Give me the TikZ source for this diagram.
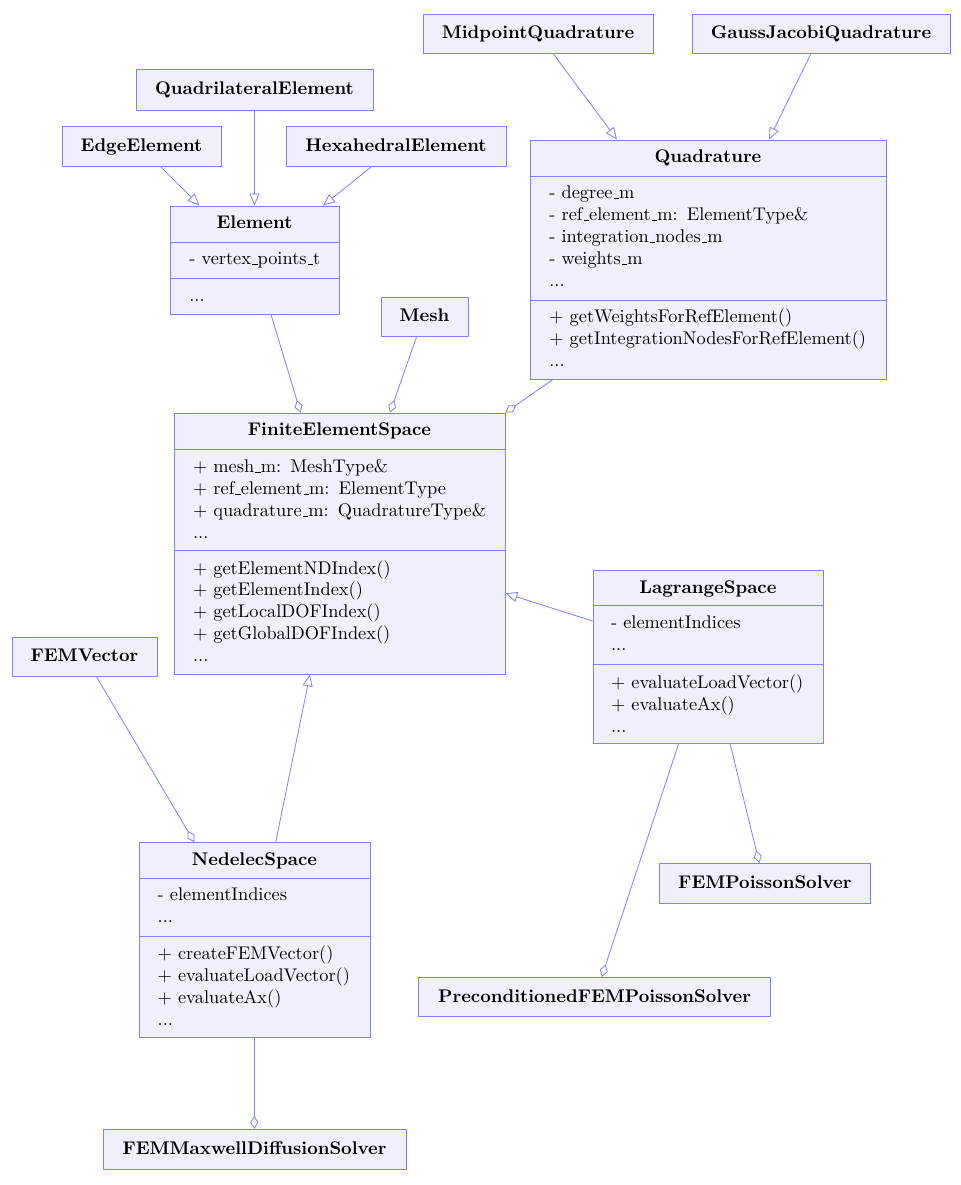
\documentclass[tikz,border=0pt]{standalone}
\usetikzlibrary{fit,arrows.meta}
\definecolor{umlline}{RGB}{128,128,255}
\definecolor{umlfill}{RGB}{240,240,252}
\newcommand\usc{\leavevmode\kern.06em\vbox{\hrule width.3em}}
\tikzset{
 umlbox/.style={draw=umlline, fill=umlfill, line width=0.5pt, inner sep=0pt, rectangle},
 umlttl/.style={anchor=base, inner sep=0pt, font=\bfseries},
 umlmem/.style={anchor=base west, inner sep=0pt, text width=220pt, align=left},
 umlsep/.style={draw=umlline, line width=0.5pt},
 umlconn/.style={draw=umlline, line width=0.45pt},
 umlinh/.style={umlconn, -{Triangle[open, length=6.5pt, width=5.5pt]}},
 umlagg/.style={umlconn, -{Diamond[open, length=7pt, width=4.5pt]}},
}
\newcommand\umlsimple[6]{%
 \node[umlbox, fit={(#2,#3) (#4,#5)}] (#1) {};
 \node[umlttl] (#1-t) at ({(#2+#4)/2},{(#3+#5)/2+5}) {#6};}
\begin{document}
\begin{tikzpicture}[x=0.5455pt,y=-0.5455pt]
\useasboundingbox (0,0) rectangle (960,1185);

% simple classes
\umlsimple{mq}{423}{14}{653}{53}{MidpointQuadrature}
\umlsimple{gj}{692}{14}{950}{53}{GaussJacobiQuadrature}
\umlsimple{qe}{136}{69.5}{373}{110}{QuadrilateralElement}
\umlsimple{ee}{62}{126.5}{221}{166.7}{EdgeElement}
\umlsimple{he}{286}{126.5}{506}{166.7}{HexahedralElement}
\umlsimple{mesh}{381}{297}{468}{336}{Mesh}
\umlsimple{fv}{12}{637}{157}{676.7}{FEMVector}
\umlsimple{fps}{659}{863.3}{870.7}{903.3}{FEMPoissonSolver}
\umlsimple{pre}{418.5}{977.3}{770.7}{1016.7}{PreconditionedFEMPoissonSolver}
\umlsimple{mx}{103}{1129.3}{406}{1169.3}{FEMMaxwellDiffusionSolver}

% Element
\node[umlbox, fit={(170,206) (339,314)}] (el) {};
\draw[umlsep] (el.west |- 0,242) -- (el.east |- 0,242);
\draw[umlsep] (el.west |- 0,278.5) -- (el.east |- 0,278.5);
\node[umlttl] (el-t) at (254.5,228.3) {Element};
\node[umlmem] (el-a) at (189,265) {- vertex\usc points\usc t};
\node[umlmem] (el-o) at (189,301.7) {...};

% Quadrature
\node[umlbox, fit={(530,140) (886,379)}] (quad) {};
\draw[umlsep] (quad.west |- 0,176) -- (quad.east |- 0,176);
\draw[umlsep] (quad.west |- 0,300.5) -- (quad.east |- 0,300.5);
\node[umlttl] (quad-t) at (708,162.7) {Quadrature};
\node[umlmem] (quad-a) at (549,199) {- degree\usc m\\- ref\usc element\usc m: ElementType\&\\- integration\usc nodes\usc m\\- weights\usc m\\...};
\node[umlmem] (quad-o) at (549,323) {+ getWeightsForRefElement()\\+ getIntegrationNodesForRefElement()\\...};

% FiniteElementSpace
\node[umlbox, fit={(174,413) (505,674)}] (fes) {};
\draw[umlsep] (fes.west |- 0,449) -- (fes.east |- 0,449);
\draw[umlsep] (fes.west |- 0,550) -- (fes.east |- 0,550);
\node[umlttl] (fes-t) at (339.5,435.7) {FiniteElementSpace};
\node[umlmem] (fes-a) at (192.7,472.7) {+ mesh\usc m: MeshType\&\\+ ref\usc element\usc m: ElementType\\+ quadrature\usc m: QuadratureType\&\\...};
\node[umlmem] (fes-o) at (192.7,574) {+ getElementNDIndex()\\+ getElementIndex()\\+ getLocalDOFIndex()\\+ getGlobalDOFIndex()\\...};

% LagrangeSpace
\node[umlbox, fit={(593,570) (823,743)}] (lag) {};
\draw[umlsep] (lag.west |- 0,605.5) -- (lag.east |- 0,605.5);
\draw[umlsep] (lag.west |- 0,664) -- (lag.east |- 0,664);
\node[umlttl] (lag-t) at (708,593) {LagrangeSpace};
\node[umlmem] (lag-a) at (610.7,628.3) {- elementIndices\\...};
\node[umlmem] (lag-o) at (610.7,688.3) {+ evaluateLoadVector()\\+ evaluateAx()\\...};

% NedelecSpace
\node[umlbox, fit={(139,842.5) (370,1037.7)}] (ned) {};
\draw[umlsep] (ned.west |- 0,878.3) -- (ned.east |- 0,878.3);
\draw[umlsep] (ned.west |- 0,936.7) -- (ned.east |- 0,936.7);
\node[umlttl] (ned-t) at (254.5,865) {NedelecSpace};
\node[umlmem] (ned-a) at (157.3,900.7) {- elementIndices\\...};
\node[umlmem] (ned-o) at (157.3,959.3) {+ createFEMVector()\\+ evaluateLoadVector()\\+ evaluateAx()\\...};

% connectors
\draw[umlinh] (553,0 |- mq.south) -- (617,0 |- quad.north);
\draw[umlinh] (811,0 |- gj.south) -- (769,0 |- quad.north);
\draw[umlinh] (qe.south) -- (254.5,0 |- el.north);
\draw[umlinh] (161,0 |- ee.south) -- (199.5,0 |- el.north);
\draw[umlinh] (371,0 |- he.south) -- (323,0 |- el.north);
\draw[umlagg] (271,0 |- el.south) -- (300.5,0 |- fes.north);
\draw[umlagg] (416.7,0 |- mesh.south) -- (390,0 |- fes.north);
\draw[umlagg] (553,0 |- quad.south) -- (fes.north east);
\draw[umlinh] (lag.west |- 0,621) -- (fes.east |- 0,593.3);
\draw[umlagg] (96.7,0 |- fv.south) -- (194.3,0 |- ned.north);
\draw[umlinh] (275.7,0 |- ned.north) -- (310,0 |- fes.south);
\draw[umlagg] (678.7,0 |- lag.south) -- (601.7,0 |- pre.north);
\draw[umlagg] (730,0 |- lag.south) -- (759.3,0 |- fps.north);
\draw[umlagg] (254.3,0 |- ned.south) -- (254.3,0 |- mx.north);
\end{tikzpicture}
\end{document}
